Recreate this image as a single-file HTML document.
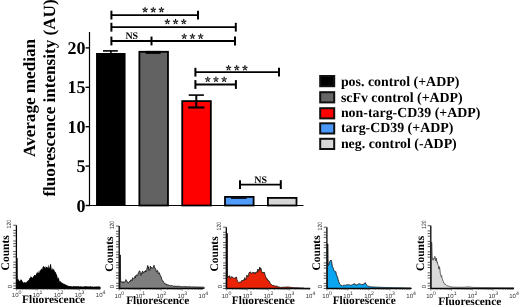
<!DOCTYPE html>
<html><head><meta charset="utf-8"><style>
html,body{margin:0;padding:0;background:#fff;}
body{width:520px;height:307px;overflow:hidden;}
svg{display:block;font-family:"Liberation Serif", serif;text-rendering:geometricPrecision;filter:blur(0.35px);}
</style></head><body>
<svg width="520" height="307" viewBox="0 0 520 307">
<rect width="520" height="307" fill="#fff"/>
<line x1="89.5" y1="32" x2="89.5" y2="206.2" stroke="#000" stroke-width="1.2"/>
<line x1="88.9" y1="205.5" x2="303.5" y2="205.5" stroke="#000" stroke-width="1.2"/>
<line x1="85.6" y1="205.50" x2="89.5" y2="205.50" stroke="#000" stroke-width="1.4"/>
<text x="85.5" y="211.60" font-size="18" font-weight="bold" text-anchor="end">0</text>
<line x1="85.6" y1="166.10" x2="89.5" y2="166.10" stroke="#000" stroke-width="1.4"/>
<text x="85.5" y="172.20" font-size="18" font-weight="bold" text-anchor="end">5</text>
<line x1="85.6" y1="126.70" x2="89.5" y2="126.70" stroke="#000" stroke-width="1.4"/>
<text x="85.5" y="132.80" font-size="18" font-weight="bold" text-anchor="end">10</text>
<line x1="85.6" y1="87.30" x2="89.5" y2="87.30" stroke="#000" stroke-width="1.4"/>
<text x="85.5" y="93.40" font-size="18" font-weight="bold" text-anchor="end">15</text>
<line x1="85.6" y1="47.90" x2="89.5" y2="47.90" stroke="#000" stroke-width="1.4"/>
<text x="85.5" y="54.00" font-size="18" font-weight="bold" text-anchor="end">20</text>
<text transform="translate(35.4,98) rotate(-90)" font-size="17.1" font-weight="bold" text-anchor="middle">Average median</text>
<text transform="translate(55,98) rotate(-90)" font-size="17.1" font-weight="bold" text-anchor="middle">fluorescence intensity (AU)</text>
<rect x="96.05" y="53.0" width="29.5" height="152.5" fill="#000"/>
<rect x="139.37" y="51.80" width="28.60" height="153.70" fill="#626262" stroke="#000" stroke-width="1.8"/>
<rect x="182.24" y="101.10" width="28.60" height="104.40" fill="#f00" stroke="#000" stroke-width="1.8"/>
<rect x="225.00" y="196.90" width="28.60" height="8.60" fill="#509cfa" stroke="#000" stroke-width="1.8"/>
<rect x="267.90" y="197.90" width="28.60" height="7.60" fill="#d6d6d6" stroke="#000" stroke-width="1.8"/>
<line x1="103.0" y1="50.9" x2="117.8" y2="50.9" stroke="#000" stroke-width="1.6"/>
<line x1="110.9" y1="50.9" x2="110.9" y2="53.5" stroke="#000" stroke-width="1.6"/>
<line x1="145.6" y1="52.4" x2="160.6" y2="52.4" stroke="#000" stroke-width="3.0"/>
<line x1="188.7" y1="95.1" x2="203.9" y2="95.1" stroke="#000" stroke-width="1.6"/>
<line x1="188.2" y1="107.5" x2="204.4" y2="107.5" stroke="#000" stroke-width="2.2"/>
<line x1="196.3" y1="95.1" x2="196.3" y2="107.5" stroke="#000" stroke-width="2"/>
<line x1="231.0" y1="198.2" x2="246.5" y2="198.2" stroke="#000" stroke-width="1.3"/>
<line x1="111.4" y1="15.1" x2="198.0" y2="15.1" stroke="#000" stroke-width="1.8"/>
<line x1="111.4" y1="10.7" x2="111.4" y2="19.5" stroke="#000" stroke-width="2"/>
<line x1="198.0" y1="10.7" x2="198.0" y2="19.5" stroke="#000" stroke-width="2"/>
<line x1="111.4" y1="27.2" x2="235.8" y2="27.2" stroke="#000" stroke-width="1.8"/>
<line x1="111.4" y1="22.799999999999997" x2="111.4" y2="31.6" stroke="#000" stroke-width="2"/>
<line x1="235.8" y1="22.799999999999997" x2="235.8" y2="31.6" stroke="#000" stroke-width="2"/>
<line x1="111.4" y1="41.0" x2="235.0" y2="41.0" stroke="#000" stroke-width="1.8"/>
<line x1="111.4" y1="36.6" x2="111.4" y2="45.4" stroke="#000" stroke-width="2"/>
<line x1="235.0" y1="36.6" x2="235.0" y2="45.4" stroke="#000" stroke-width="2"/>
<line x1="151.5" y1="36.6" x2="151.5" y2="45.4" stroke="#000" stroke-width="2"/>
<line x1="195.4" y1="72.2" x2="279.0" y2="72.2" stroke="#000" stroke-width="1.8"/>
<line x1="195.4" y1="67.8" x2="195.4" y2="76.60000000000001" stroke="#000" stroke-width="2"/>
<line x1="279.0" y1="67.8" x2="279.0" y2="76.60000000000001" stroke="#000" stroke-width="2"/>
<line x1="195.4" y1="84.5" x2="235.9" y2="84.5" stroke="#000" stroke-width="1.8"/>
<line x1="195.4" y1="80.1" x2="195.4" y2="88.9" stroke="#000" stroke-width="2"/>
<line x1="235.9" y1="80.1" x2="235.9" y2="88.9" stroke="#000" stroke-width="2"/>
<line x1="240.0" y1="184.6" x2="280.8" y2="184.6" stroke="#000" stroke-width="1.8"/>
<line x1="240.0" y1="180.2" x2="240.0" y2="189.0" stroke="#000" stroke-width="2"/>
<line x1="280.8" y1="180.2" x2="280.8" y2="189.0" stroke="#000" stroke-width="2"/>
<g fill="#111"><ellipse cx="145.05" cy="8.23" rx="1.35" ry="0.67" transform="rotate(-90 145.05 8.23)"/><ellipse cx="146.64" cy="9.38" rx="1.35" ry="0.67" transform="rotate(-18 146.64 9.38)"/><ellipse cx="146.03" cy="11.25" rx="1.35" ry="0.67" transform="rotate(54 146.03 11.25)"/><ellipse cx="144.07" cy="11.25" rx="1.35" ry="0.67" transform="rotate(126 144.07 11.25)"/><ellipse cx="143.46" cy="9.38" rx="1.35" ry="0.67" transform="rotate(198 143.46 9.38)"/><circle cx="145.05" cy="9.90" r="0.49"/></g>
<g fill="#111"><ellipse cx="153.25" cy="8.23" rx="1.35" ry="0.67" transform="rotate(-90 153.25 8.23)"/><ellipse cx="154.84" cy="9.38" rx="1.35" ry="0.67" transform="rotate(-18 154.84 9.38)"/><ellipse cx="154.23" cy="11.25" rx="1.35" ry="0.67" transform="rotate(54 154.23 11.25)"/><ellipse cx="152.27" cy="11.25" rx="1.35" ry="0.67" transform="rotate(126 152.27 11.25)"/><ellipse cx="151.66" cy="9.38" rx="1.35" ry="0.67" transform="rotate(198 151.66 9.38)"/><circle cx="153.25" cy="9.90" r="0.49"/></g>
<g fill="#111"><ellipse cx="161.45" cy="8.23" rx="1.35" ry="0.67" transform="rotate(-90 161.45 8.23)"/><ellipse cx="163.04" cy="9.38" rx="1.35" ry="0.67" transform="rotate(-18 163.04 9.38)"/><ellipse cx="162.43" cy="11.25" rx="1.35" ry="0.67" transform="rotate(54 162.43 11.25)"/><ellipse cx="160.47" cy="11.25" rx="1.35" ry="0.67" transform="rotate(126 160.47 11.25)"/><ellipse cx="159.86" cy="9.38" rx="1.35" ry="0.67" transform="rotate(198 159.86 9.38)"/><circle cx="161.45" cy="9.90" r="0.49"/></g>
<g fill="#111"><ellipse cx="167.35" cy="20.13" rx="1.35" ry="0.67" transform="rotate(-90 167.35 20.13)"/><ellipse cx="168.94" cy="21.28" rx="1.35" ry="0.67" transform="rotate(-18 168.94 21.28)"/><ellipse cx="168.33" cy="23.15" rx="1.35" ry="0.67" transform="rotate(54 168.33 23.15)"/><ellipse cx="166.37" cy="23.15" rx="1.35" ry="0.67" transform="rotate(126 166.37 23.15)"/><ellipse cx="165.76" cy="21.28" rx="1.35" ry="0.67" transform="rotate(198 165.76 21.28)"/><circle cx="167.35" cy="21.80" r="0.49"/></g>
<g fill="#111"><ellipse cx="175.55" cy="20.13" rx="1.35" ry="0.67" transform="rotate(-90 175.55 20.13)"/><ellipse cx="177.14" cy="21.28" rx="1.35" ry="0.67" transform="rotate(-18 177.14 21.28)"/><ellipse cx="176.53" cy="23.15" rx="1.35" ry="0.67" transform="rotate(54 176.53 23.15)"/><ellipse cx="174.57" cy="23.15" rx="1.35" ry="0.67" transform="rotate(126 174.57 23.15)"/><ellipse cx="173.96" cy="21.28" rx="1.35" ry="0.67" transform="rotate(198 173.96 21.28)"/><circle cx="175.55" cy="21.80" r="0.49"/></g>
<g fill="#111"><ellipse cx="183.75" cy="20.13" rx="1.35" ry="0.67" transform="rotate(-90 183.75 20.13)"/><ellipse cx="185.34" cy="21.28" rx="1.35" ry="0.67" transform="rotate(-18 185.34 21.28)"/><ellipse cx="184.73" cy="23.15" rx="1.35" ry="0.67" transform="rotate(54 184.73 23.15)"/><ellipse cx="182.77" cy="23.15" rx="1.35" ry="0.67" transform="rotate(126 182.77 23.15)"/><ellipse cx="182.16" cy="21.28" rx="1.35" ry="0.67" transform="rotate(198 182.16 21.28)"/><circle cx="183.75" cy="21.80" r="0.49"/></g>
<g fill="#111"><ellipse cx="184.25" cy="34.83" rx="1.35" ry="0.67" transform="rotate(-90 184.25 34.83)"/><ellipse cx="185.84" cy="35.98" rx="1.35" ry="0.67" transform="rotate(-18 185.84 35.98)"/><ellipse cx="185.23" cy="37.85" rx="1.35" ry="0.67" transform="rotate(54 185.23 37.85)"/><ellipse cx="183.27" cy="37.85" rx="1.35" ry="0.67" transform="rotate(126 183.27 37.85)"/><ellipse cx="182.66" cy="35.98" rx="1.35" ry="0.67" transform="rotate(198 182.66 35.98)"/><circle cx="184.25" cy="36.50" r="0.49"/></g>
<g fill="#111"><ellipse cx="192.45" cy="34.83" rx="1.35" ry="0.67" transform="rotate(-90 192.45 34.83)"/><ellipse cx="194.04" cy="35.98" rx="1.35" ry="0.67" transform="rotate(-18 194.04 35.98)"/><ellipse cx="193.43" cy="37.85" rx="1.35" ry="0.67" transform="rotate(54 193.43 37.85)"/><ellipse cx="191.47" cy="37.85" rx="1.35" ry="0.67" transform="rotate(126 191.47 37.85)"/><ellipse cx="190.86" cy="35.98" rx="1.35" ry="0.67" transform="rotate(198 190.86 35.98)"/><circle cx="192.45" cy="36.50" r="0.49"/></g>
<g fill="#111"><ellipse cx="200.65" cy="34.83" rx="1.35" ry="0.67" transform="rotate(-90 200.65 34.83)"/><ellipse cx="202.24" cy="35.98" rx="1.35" ry="0.67" transform="rotate(-18 202.24 35.98)"/><ellipse cx="201.63" cy="37.85" rx="1.35" ry="0.67" transform="rotate(54 201.63 37.85)"/><ellipse cx="199.67" cy="37.85" rx="1.35" ry="0.67" transform="rotate(126 199.67 37.85)"/><ellipse cx="199.06" cy="35.98" rx="1.35" ry="0.67" transform="rotate(198 199.06 35.98)"/><circle cx="200.65" cy="36.50" r="0.49"/></g>
<g fill="#111"><ellipse cx="228.55" cy="66.28" rx="1.35" ry="0.67" transform="rotate(-90 228.55 66.28)"/><ellipse cx="230.14" cy="67.43" rx="1.35" ry="0.67" transform="rotate(-18 230.14 67.43)"/><ellipse cx="229.53" cy="69.30" rx="1.35" ry="0.67" transform="rotate(54 229.53 69.30)"/><ellipse cx="227.57" cy="69.30" rx="1.35" ry="0.67" transform="rotate(126 227.57 69.30)"/><ellipse cx="226.96" cy="67.43" rx="1.35" ry="0.67" transform="rotate(198 226.96 67.43)"/><circle cx="228.55" cy="67.95" r="0.49"/></g>
<g fill="#111"><ellipse cx="236.75" cy="66.28" rx="1.35" ry="0.67" transform="rotate(-90 236.75 66.28)"/><ellipse cx="238.34" cy="67.43" rx="1.35" ry="0.67" transform="rotate(-18 238.34 67.43)"/><ellipse cx="237.73" cy="69.30" rx="1.35" ry="0.67" transform="rotate(54 237.73 69.30)"/><ellipse cx="235.77" cy="69.30" rx="1.35" ry="0.67" transform="rotate(126 235.77 69.30)"/><ellipse cx="235.16" cy="67.43" rx="1.35" ry="0.67" transform="rotate(198 235.16 67.43)"/><circle cx="236.75" cy="67.95" r="0.49"/></g>
<g fill="#111"><ellipse cx="244.95" cy="66.28" rx="1.35" ry="0.67" transform="rotate(-90 244.95 66.28)"/><ellipse cx="246.54" cy="67.43" rx="1.35" ry="0.67" transform="rotate(-18 246.54 67.43)"/><ellipse cx="245.93" cy="69.30" rx="1.35" ry="0.67" transform="rotate(54 245.93 69.30)"/><ellipse cx="243.97" cy="69.30" rx="1.35" ry="0.67" transform="rotate(126 243.97 69.30)"/><ellipse cx="243.36" cy="67.43" rx="1.35" ry="0.67" transform="rotate(198 243.36 67.43)"/><circle cx="244.95" cy="67.95" r="0.49"/></g>
<g fill="#111"><ellipse cx="207.75" cy="77.83" rx="1.35" ry="0.67" transform="rotate(-90 207.75 77.83)"/><ellipse cx="209.34" cy="78.98" rx="1.35" ry="0.67" transform="rotate(-18 209.34 78.98)"/><ellipse cx="208.73" cy="80.85" rx="1.35" ry="0.67" transform="rotate(54 208.73 80.85)"/><ellipse cx="206.77" cy="80.85" rx="1.35" ry="0.67" transform="rotate(126 206.77 80.85)"/><ellipse cx="206.16" cy="78.98" rx="1.35" ry="0.67" transform="rotate(198 206.16 78.98)"/><circle cx="207.75" cy="79.50" r="0.49"/></g>
<g fill="#111"><ellipse cx="215.95" cy="77.83" rx="1.35" ry="0.67" transform="rotate(-90 215.95 77.83)"/><ellipse cx="217.54" cy="78.98" rx="1.35" ry="0.67" transform="rotate(-18 217.54 78.98)"/><ellipse cx="216.93" cy="80.85" rx="1.35" ry="0.67" transform="rotate(54 216.93 80.85)"/><ellipse cx="214.97" cy="80.85" rx="1.35" ry="0.67" transform="rotate(126 214.97 80.85)"/><ellipse cx="214.36" cy="78.98" rx="1.35" ry="0.67" transform="rotate(198 214.36 78.98)"/><circle cx="215.95" cy="79.50" r="0.49"/></g>
<g fill="#111"><ellipse cx="224.15" cy="77.83" rx="1.35" ry="0.67" transform="rotate(-90 224.15 77.83)"/><ellipse cx="225.74" cy="78.98" rx="1.35" ry="0.67" transform="rotate(-18 225.74 78.98)"/><ellipse cx="225.13" cy="80.85" rx="1.35" ry="0.67" transform="rotate(54 225.13 80.85)"/><ellipse cx="223.17" cy="80.85" rx="1.35" ry="0.67" transform="rotate(126 223.17 80.85)"/><ellipse cx="222.56" cy="78.98" rx="1.35" ry="0.67" transform="rotate(198 222.56 78.98)"/><circle cx="224.15" cy="79.50" r="0.49"/></g>
<text x="125.40" y="38.8" font-size="10" font-weight="bold">NS</text>
<text x="254.20" y="182.7" font-size="10" font-weight="bold">NS</text>
<rect x="320.2" y="76.00" width="14" height="10.2" fill="#000" stroke="#111" stroke-width="2"/>
<text x="340.9" y="85.5" font-size="13.9" font-weight="bold">pos. control (+ADP)</text>
<rect x="320.2" y="92.20" width="14" height="10.2" fill="#666" stroke="#111" stroke-width="2"/>
<text x="340.9" y="101.7" font-size="13.9" font-weight="bold">scFv control (+ADP)</text>
<rect x="320.2" y="108.20" width="14" height="10.2" fill="#f00" stroke="#111" stroke-width="2"/>
<text x="340.9" y="117.4" font-size="13.9" font-weight="bold">non-targ-CD39 (+ADP)</text>
<rect x="320.2" y="123.30" width="14" height="10.2" fill="#4a98fc" stroke="#111" stroke-width="2"/>
<text x="340.9" y="132.3" font-size="13.9" font-weight="bold">targ-CD39 (+ADP)</text>
<rect x="320.2" y="138.80" width="14" height="10.2" fill="#d8d8d8" stroke="#111" stroke-width="2"/>
<text x="340.9" y="148.0" font-size="13.9" font-weight="bold">neg. control (-ADP)</text>
<path d="M17.00,288.5 L17.00,258.00 L17.60,258.00 L17.80,279.00 L18.25,278.98 L18.70,280.06 L19.20,280.46 L19.70,281.19 L20.25,280.39 L20.80,279.14 L21.30,279.87 L21.80,279.73 L22.35,281.16 L22.90,282.00 L23.40,282.21 L23.90,283.21 L24.40,282.09 L24.80,282.07 L25.20,281.90 L25.60,282.86 L26.00,282.73 L26.50,282.06 L27.00,281.60 L27.50,280.92 L27.90,280.70 L28.30,279.91 L28.70,280.27 L29.10,279.18 L29.60,278.03 L30.10,277.88 L30.63,275.98 L31.17,277.16 L31.70,276.78 L32.23,277.81 L32.77,277.39 L33.30,276.51 L33.80,275.97 L34.30,274.94 L34.80,274.96 L35.20,275.23 L35.60,275.33 L36.00,274.52 L36.40,272.37 L36.90,273.92 L37.40,272.35 L37.80,271.88 L38.20,273.62 L38.60,271.72 L39.00,270.10 L39.40,273.19 L39.80,270.85 L40.20,270.12 L40.60,270.43 L41.10,268.56 L41.60,268.84 L42.10,270.11 L42.50,267.18 L42.90,267.11 L43.30,266.53 L43.70,265.68 L44.20,266.80 L44.70,266.92 L45.20,268.47 L45.73,265.95 L46.27,267.25 L46.80,266.85 L47.20,267.73 L47.60,267.24 L48.00,266.58 L48.40,264.20 L48.90,268.41 L49.40,267.80 L49.90,265.81 L50.45,263.65 L51.00,264.07 L51.50,268.44 L52.00,270.41 L52.40,267.50 L52.80,269.31 L53.20,270.26 L53.60,268.39 L54.10,269.15 L54.60,271.06 L55.10,271.84 L55.50,272.43 L55.90,272.05 L56.30,273.82 L56.70,274.71 L57.23,275.73 L57.77,278.63 L58.30,277.25 L58.70,278.11 L59.10,279.01 L59.60,281.40 L60.10,281.13 L60.60,280.92 L61.00,282.77 L61.40,282.29 L61.80,282.12 L62.20,283.58 L62.62,282.52 L63.04,283.17 L63.46,283.66 L63.88,283.68 L64.30,283.77 L64.72,284.18 L65.14,284.07 L65.56,284.86 L65.98,285.00 L66.40,284.82 L66.82,285.25 L67.24,285.64 L67.66,285.36 L68.08,285.42 L68.50,285.99 L68.94,286.24 L69.39,286.04 L69.83,286.10 L70.27,286.19 L70.71,285.93 L71.16,286.43 L71.60,286.08 L72.01,286.52 L72.43,286.44 L72.84,286.19 L73.25,286.10 L73.67,286.15 L74.08,286.24 L74.49,286.27 L74.91,286.27 L75.32,286.20 L75.73,286.33 L76.15,286.25 L76.56,286.20 L76.97,286.30 L77.39,286.17 L77.80,286.20 L78.20,285.96 L78.60,286.27 L79.00,286.42 L79.40,286.43 L79.80,286.38 L80.20,286.24 L80.60,286.46 L81.00,286.36 L81.40,286.14 L81.80,286.87 L82.20,286.65 L82.60,286.45 L83.00,286.44 L83.42,286.44 L83.83,286.54 L84.25,286.34 L84.67,286.39 L85.08,286.50 L85.50,285.99 L85.92,286.32 L86.33,286.46 L86.75,286.37 L87.17,286.37 L87.58,286.33 L88.00,286.78 L88.42,286.41 L88.85,286.17 L89.27,286.57 L89.69,286.40 L90.12,286.26 L90.54,286.30 L90.96,286.22 L91.38,286.76 L91.81,286.56 L92.23,286.58 L92.65,286.46 L93.08,286.41 L93.50,287.01 L93.90,286.43 L94.30,286.82 L94.70,286.50 L95.10,286.83 L95.50,286.57 L95.90,286.42 L96.30,286.62 L96.70,286.57 L97.10,286.48 L97.50,286.58 L97.90,286.61 L98.30,286.37 L98.70,286.44 L99.17,286.69 L99.65,286.30 L100.12,286.91 L100.60,286.68 L100.60,288.5 Z" fill="#000" stroke="none" stroke-width="0.9" stroke-linejoin="round"/>
<line x1="16.4" y1="225.2" x2="16.4" y2="289.0" stroke="#000" stroke-width="1.3"/>
<line x1="15.799999999999999" y1="288.5" x2="100.40" y2="288.5" stroke="#000" stroke-width="1.3"/>
<line x1="13.20" y1="288.50" x2="16.4" y2="288.50" stroke="#333" stroke-width="0.8"/>
<line x1="13.20" y1="285.86" x2="16.4" y2="285.86" stroke="#333" stroke-width="0.8"/>
<line x1="13.20" y1="283.23" x2="16.4" y2="283.23" stroke="#333" stroke-width="0.8"/>
<line x1="13.20" y1="277.95" x2="16.4" y2="277.95" stroke="#333" stroke-width="0.8"/>
<line x1="13.20" y1="275.31" x2="16.4" y2="275.31" stroke="#333" stroke-width="0.8"/>
<line x1="13.20" y1="272.68" x2="16.4" y2="272.68" stroke="#333" stroke-width="0.8"/>
<line x1="13.20" y1="267.40" x2="16.4" y2="267.40" stroke="#333" stroke-width="0.8"/>
<line x1="13.20" y1="264.76" x2="16.4" y2="264.76" stroke="#333" stroke-width="0.8"/>
<line x1="13.20" y1="262.12" x2="16.4" y2="262.12" stroke="#333" stroke-width="0.8"/>
<line x1="13.20" y1="256.85" x2="16.4" y2="256.85" stroke="#333" stroke-width="0.8"/>
<line x1="13.20" y1="254.21" x2="16.4" y2="254.21" stroke="#333" stroke-width="0.8"/>
<line x1="13.20" y1="251.57" x2="16.4" y2="251.57" stroke="#333" stroke-width="0.8"/>
<line x1="13.20" y1="246.30" x2="16.4" y2="246.30" stroke="#333" stroke-width="0.8"/>
<line x1="13.20" y1="243.66" x2="16.4" y2="243.66" stroke="#333" stroke-width="0.8"/>
<line x1="13.20" y1="241.03" x2="16.4" y2="241.03" stroke="#333" stroke-width="0.8"/>
<line x1="13.20" y1="235.75" x2="16.4" y2="235.75" stroke="#333" stroke-width="0.8"/>
<line x1="13.20" y1="233.11" x2="16.4" y2="233.11" stroke="#333" stroke-width="0.8"/>
<line x1="13.20" y1="230.47" x2="16.4" y2="230.47" stroke="#333" stroke-width="0.8"/>
<line x1="13.20" y1="225.20" x2="16.4" y2="225.20" stroke="#333" stroke-width="0.8"/>
<line x1="16.40" y1="288.5" x2="16.40" y2="290.7" stroke="#444" stroke-width="0.55"/>
<line x1="22.72" y1="288.5" x2="22.72" y2="289.9" stroke="#444" stroke-width="0.55"/>
<line x1="26.42" y1="288.5" x2="26.42" y2="289.9" stroke="#444" stroke-width="0.55"/>
<line x1="29.04" y1="288.5" x2="29.04" y2="289.9" stroke="#444" stroke-width="0.55"/>
<line x1="31.08" y1="288.5" x2="31.08" y2="289.9" stroke="#444" stroke-width="0.55"/>
<line x1="32.74" y1="288.5" x2="32.74" y2="289.9" stroke="#444" stroke-width="0.55"/>
<line x1="34.15" y1="288.5" x2="34.15" y2="289.9" stroke="#444" stroke-width="0.55"/>
<line x1="35.36" y1="288.5" x2="35.36" y2="289.9" stroke="#444" stroke-width="0.55"/>
<line x1="36.44" y1="288.5" x2="36.44" y2="289.9" stroke="#444" stroke-width="0.55"/>
<line x1="37.40" y1="288.5" x2="37.40" y2="290.7" stroke="#444" stroke-width="0.55"/>
<line x1="43.72" y1="288.5" x2="43.72" y2="289.9" stroke="#444" stroke-width="0.55"/>
<line x1="47.42" y1="288.5" x2="47.42" y2="289.9" stroke="#444" stroke-width="0.55"/>
<line x1="50.04" y1="288.5" x2="50.04" y2="289.9" stroke="#444" stroke-width="0.55"/>
<line x1="52.08" y1="288.5" x2="52.08" y2="289.9" stroke="#444" stroke-width="0.55"/>
<line x1="53.74" y1="288.5" x2="53.74" y2="289.9" stroke="#444" stroke-width="0.55"/>
<line x1="55.15" y1="288.5" x2="55.15" y2="289.9" stroke="#444" stroke-width="0.55"/>
<line x1="56.36" y1="288.5" x2="56.36" y2="289.9" stroke="#444" stroke-width="0.55"/>
<line x1="57.44" y1="288.5" x2="57.44" y2="289.9" stroke="#444" stroke-width="0.55"/>
<line x1="58.40" y1="288.5" x2="58.40" y2="290.7" stroke="#444" stroke-width="0.55"/>
<line x1="64.72" y1="288.5" x2="64.72" y2="289.9" stroke="#444" stroke-width="0.55"/>
<line x1="68.42" y1="288.5" x2="68.42" y2="289.9" stroke="#444" stroke-width="0.55"/>
<line x1="71.04" y1="288.5" x2="71.04" y2="289.9" stroke="#444" stroke-width="0.55"/>
<line x1="73.08" y1="288.5" x2="73.08" y2="289.9" stroke="#444" stroke-width="0.55"/>
<line x1="74.74" y1="288.5" x2="74.74" y2="289.9" stroke="#444" stroke-width="0.55"/>
<line x1="76.15" y1="288.5" x2="76.15" y2="289.9" stroke="#444" stroke-width="0.55"/>
<line x1="77.36" y1="288.5" x2="77.36" y2="289.9" stroke="#444" stroke-width="0.55"/>
<line x1="78.44" y1="288.5" x2="78.44" y2="289.9" stroke="#444" stroke-width="0.55"/>
<line x1="79.40" y1="288.5" x2="79.40" y2="290.7" stroke="#444" stroke-width="0.55"/>
<line x1="85.72" y1="288.5" x2="85.72" y2="289.9" stroke="#444" stroke-width="0.55"/>
<line x1="89.42" y1="288.5" x2="89.42" y2="289.9" stroke="#444" stroke-width="0.55"/>
<line x1="92.04" y1="288.5" x2="92.04" y2="289.9" stroke="#444" stroke-width="0.55"/>
<line x1="94.08" y1="288.5" x2="94.08" y2="289.9" stroke="#444" stroke-width="0.55"/>
<line x1="95.74" y1="288.5" x2="95.74" y2="289.9" stroke="#444" stroke-width="0.55"/>
<line x1="97.15" y1="288.5" x2="97.15" y2="289.9" stroke="#444" stroke-width="0.55"/>
<line x1="98.36" y1="288.5" x2="98.36" y2="289.9" stroke="#444" stroke-width="0.55"/>
<line x1="99.44" y1="288.5" x2="99.44" y2="289.9" stroke="#444" stroke-width="0.55"/>
<text x="11.80" y="297.2" font-family="Liberation Sans, sans-serif" font-size="6.0" fill="#333">10<tspan dy="-3.0" font-size="5.2">0</tspan></text>
<text x="32.80" y="297.2" font-family="Liberation Sans, sans-serif" font-size="6.0" fill="#333">10<tspan dy="-3.0" font-size="5.2">1</tspan></text>
<text x="53.80" y="297.2" font-family="Liberation Sans, sans-serif" font-size="6.0" fill="#333">10<tspan dy="-3.0" font-size="5.2">2</tspan></text>
<text x="74.80" y="297.2" font-family="Liberation Sans, sans-serif" font-size="6.0" fill="#333">10<tspan dy="-3.0" font-size="5.2">3</tspan></text>
<text x="95.80" y="297.2" font-family="Liberation Sans, sans-serif" font-size="6.0" fill="#333">10<tspan dy="-3.0" font-size="5.2">4</tspan></text>
<text transform="translate(11.60,286.60) rotate(-90)" font-family="Liberation Sans, sans-serif" font-size="6" fill="#333" text-anchor="middle">0</text>
<text transform="translate(11.40,224.20) rotate(-90)" font-family="Liberation Sans, sans-serif" font-size="6.2" fill="#333" text-anchor="middle" textLength="8.4" lengthAdjust="spacingAndGlyphs">120</text>
<text transform="translate(8.9,252.8) rotate(-90)" font-size="11.5" font-weight="bold" text-anchor="middle">Counts</text>
<text x="53.6" y="303.3" font-size="11.4" font-weight="bold" text-anchor="middle">Fluorescence</text>
<path d="M119.90,288.5 L119.90,255.00 L120.40,255.00 L120.60,282.14 L121.03,281.96 L121.47,281.70 L121.90,281.99 L122.33,281.81 L122.77,282.94 L123.20,282.96 L123.73,281.61 L124.27,282.19 L124.80,281.98 L125.35,281.79 L125.90,279.58 L126.40,280.61 L126.90,280.90 L127.40,282.72 L127.90,282.80 L128.43,283.14 L128.97,282.03 L129.50,281.40 L130.03,282.09 L130.57,280.06 L131.10,279.76 L131.60,279.99 L132.10,280.78 L132.60,277.71 L133.13,278.71 L133.67,278.95 L134.20,277.97 L134.60,277.58 L135.00,276.26 L135.40,278.07 L135.80,275.79 L136.30,275.09 L136.80,274.74 L137.30,275.87 L137.85,275.37 L138.40,272.58 L138.90,272.18 L139.40,270.86 L139.90,271.07 L140.40,274.36 L140.93,275.57 L141.47,272.77 L142.00,273.49 L142.53,271.00 L143.07,271.90 L143.60,273.23 L144.10,272.44 L144.60,271.39 L145.10,272.02 L145.63,270.49 L146.17,271.77 L146.70,270.38 L147.20,267.76 L147.70,265.48 L148.10,268.45 L148.50,266.86 L148.90,270.35 L149.30,269.66 L149.83,270.22 L150.37,266.12 L150.90,268.39 L151.40,267.25 L151.90,267.80 L152.40,267.93 L152.93,268.43 L153.47,267.29 L154.00,265.26 L154.50,268.05 L155.00,268.19 L155.50,268.37 L156.03,270.22 L156.57,271.89 L157.10,271.60 L157.63,270.38 L158.17,273.80 L158.70,273.22 L159.20,272.62 L159.70,273.90 L160.20,275.69 L160.67,275.71 L161.13,277.02 L161.60,278.90 L162.10,280.25 L162.60,280.66 L163.10,280.88 L163.52,282.12 L163.94,282.69 L164.36,283.02 L164.78,283.74 L165.20,283.55 L165.62,284.17 L166.04,283.81 L166.46,284.98 L166.88,284.27 L167.30,284.80 L167.74,285.33 L168.19,284.68 L168.63,285.11 L169.07,285.77 L169.51,285.54 L169.96,285.39 L170.40,285.71 L170.84,285.49 L171.29,285.58 L171.73,285.67 L172.17,285.82 L172.61,285.69 L173.06,285.90 L173.50,286.01 L173.91,286.52 L174.31,285.99 L174.72,285.94 L175.12,286.27 L175.53,286.32 L175.93,285.92 L176.34,286.60 L176.74,286.24 L177.15,285.93 L177.56,286.54 L177.96,286.29 L178.37,286.12 L178.77,286.48 L179.18,286.40 L179.58,286.37 L179.99,286.69 L180.39,286.59 L180.80,286.56 L181.20,286.49 L181.61,286.63 L182.01,286.66 L182.42,286.80 L182.82,286.71 L183.22,286.54 L183.63,286.67 L184.03,286.82 L184.43,286.82 L184.84,286.33 L185.24,286.57 L185.65,286.65 L186.05,287.11 L186.45,286.68 L186.86,286.71 L187.26,286.55 L187.67,286.74 L188.07,286.82 L188.47,286.75 L188.88,287.09 L189.28,286.71 L189.68,286.81 L190.09,286.96 L190.49,286.70 L190.90,286.66 L191.30,287.08 L191.70,286.99 L192.11,286.88 L192.51,286.91 L192.91,286.99 L193.32,287.07 L193.72,286.70 L194.12,286.84 L194.53,287.12 L194.93,287.15 L195.33,286.79 L195.74,287.01 L196.14,287.02 L196.54,287.03 L196.95,287.04 L197.35,287.05 L197.75,287.05 L198.15,287.06 L198.56,287.07 L198.96,287.08 L199.36,287.09 L199.77,287.10 L200.17,287.11 L200.57,287.12 L200.98,287.13 L201.38,287.14 L201.78,287.15 L202.19,287.16 L202.59,287.17 L202.99,287.18 L203.40,287.19 L203.80,287.20 L204.20,287.40 L204.20,288.5 Z" fill="#7e7e7e" stroke="#1a1a1a" stroke-width="0.9" stroke-linejoin="round"/>
<line x1="119.2" y1="226.1" x2="119.2" y2="289.0" stroke="#000" stroke-width="1.3"/>
<line x1="118.60000000000001" y1="288.5" x2="203.20" y2="288.5" stroke="#000" stroke-width="1.3"/>
<line x1="116.00" y1="288.50" x2="119.2" y2="288.50" stroke="#333" stroke-width="0.8"/>
<line x1="116.00" y1="285.90" x2="119.2" y2="285.90" stroke="#333" stroke-width="0.8"/>
<line x1="116.00" y1="283.30" x2="119.2" y2="283.30" stroke="#333" stroke-width="0.8"/>
<line x1="116.00" y1="278.10" x2="119.2" y2="278.10" stroke="#333" stroke-width="0.8"/>
<line x1="116.00" y1="275.50" x2="119.2" y2="275.50" stroke="#333" stroke-width="0.8"/>
<line x1="116.00" y1="272.90" x2="119.2" y2="272.90" stroke="#333" stroke-width="0.8"/>
<line x1="116.00" y1="267.70" x2="119.2" y2="267.70" stroke="#333" stroke-width="0.8"/>
<line x1="116.00" y1="265.10" x2="119.2" y2="265.10" stroke="#333" stroke-width="0.8"/>
<line x1="116.00" y1="262.50" x2="119.2" y2="262.50" stroke="#333" stroke-width="0.8"/>
<line x1="116.00" y1="257.30" x2="119.2" y2="257.30" stroke="#333" stroke-width="0.8"/>
<line x1="116.00" y1="254.70" x2="119.2" y2="254.70" stroke="#333" stroke-width="0.8"/>
<line x1="116.00" y1="252.10" x2="119.2" y2="252.10" stroke="#333" stroke-width="0.8"/>
<line x1="116.00" y1="246.90" x2="119.2" y2="246.90" stroke="#333" stroke-width="0.8"/>
<line x1="116.00" y1="244.30" x2="119.2" y2="244.30" stroke="#333" stroke-width="0.8"/>
<line x1="116.00" y1="241.70" x2="119.2" y2="241.70" stroke="#333" stroke-width="0.8"/>
<line x1="116.00" y1="236.50" x2="119.2" y2="236.50" stroke="#333" stroke-width="0.8"/>
<line x1="116.00" y1="233.90" x2="119.2" y2="233.90" stroke="#333" stroke-width="0.8"/>
<line x1="116.00" y1="231.30" x2="119.2" y2="231.30" stroke="#333" stroke-width="0.8"/>
<line x1="116.00" y1="226.10" x2="119.2" y2="226.10" stroke="#333" stroke-width="0.8"/>
<line x1="119.20" y1="288.5" x2="119.20" y2="290.7" stroke="#444" stroke-width="0.55"/>
<line x1="125.52" y1="288.5" x2="125.52" y2="289.9" stroke="#444" stroke-width="0.55"/>
<line x1="129.22" y1="288.5" x2="129.22" y2="289.9" stroke="#444" stroke-width="0.55"/>
<line x1="131.84" y1="288.5" x2="131.84" y2="289.9" stroke="#444" stroke-width="0.55"/>
<line x1="133.88" y1="288.5" x2="133.88" y2="289.9" stroke="#444" stroke-width="0.55"/>
<line x1="135.54" y1="288.5" x2="135.54" y2="289.9" stroke="#444" stroke-width="0.55"/>
<line x1="136.95" y1="288.5" x2="136.95" y2="289.9" stroke="#444" stroke-width="0.55"/>
<line x1="138.16" y1="288.5" x2="138.16" y2="289.9" stroke="#444" stroke-width="0.55"/>
<line x1="139.24" y1="288.5" x2="139.24" y2="289.9" stroke="#444" stroke-width="0.55"/>
<line x1="140.20" y1="288.5" x2="140.20" y2="290.7" stroke="#444" stroke-width="0.55"/>
<line x1="146.52" y1="288.5" x2="146.52" y2="289.9" stroke="#444" stroke-width="0.55"/>
<line x1="150.22" y1="288.5" x2="150.22" y2="289.9" stroke="#444" stroke-width="0.55"/>
<line x1="152.84" y1="288.5" x2="152.84" y2="289.9" stroke="#444" stroke-width="0.55"/>
<line x1="154.88" y1="288.5" x2="154.88" y2="289.9" stroke="#444" stroke-width="0.55"/>
<line x1="156.54" y1="288.5" x2="156.54" y2="289.9" stroke="#444" stroke-width="0.55"/>
<line x1="157.95" y1="288.5" x2="157.95" y2="289.9" stroke="#444" stroke-width="0.55"/>
<line x1="159.16" y1="288.5" x2="159.16" y2="289.9" stroke="#444" stroke-width="0.55"/>
<line x1="160.24" y1="288.5" x2="160.24" y2="289.9" stroke="#444" stroke-width="0.55"/>
<line x1="161.20" y1="288.5" x2="161.20" y2="290.7" stroke="#444" stroke-width="0.55"/>
<line x1="167.52" y1="288.5" x2="167.52" y2="289.9" stroke="#444" stroke-width="0.55"/>
<line x1="171.22" y1="288.5" x2="171.22" y2="289.9" stroke="#444" stroke-width="0.55"/>
<line x1="173.84" y1="288.5" x2="173.84" y2="289.9" stroke="#444" stroke-width="0.55"/>
<line x1="175.88" y1="288.5" x2="175.88" y2="289.9" stroke="#444" stroke-width="0.55"/>
<line x1="177.54" y1="288.5" x2="177.54" y2="289.9" stroke="#444" stroke-width="0.55"/>
<line x1="178.95" y1="288.5" x2="178.95" y2="289.9" stroke="#444" stroke-width="0.55"/>
<line x1="180.16" y1="288.5" x2="180.16" y2="289.9" stroke="#444" stroke-width="0.55"/>
<line x1="181.24" y1="288.5" x2="181.24" y2="289.9" stroke="#444" stroke-width="0.55"/>
<line x1="182.20" y1="288.5" x2="182.20" y2="290.7" stroke="#444" stroke-width="0.55"/>
<line x1="188.52" y1="288.5" x2="188.52" y2="289.9" stroke="#444" stroke-width="0.55"/>
<line x1="192.22" y1="288.5" x2="192.22" y2="289.9" stroke="#444" stroke-width="0.55"/>
<line x1="194.84" y1="288.5" x2="194.84" y2="289.9" stroke="#444" stroke-width="0.55"/>
<line x1="196.88" y1="288.5" x2="196.88" y2="289.9" stroke="#444" stroke-width="0.55"/>
<line x1="198.54" y1="288.5" x2="198.54" y2="289.9" stroke="#444" stroke-width="0.55"/>
<line x1="199.95" y1="288.5" x2="199.95" y2="289.9" stroke="#444" stroke-width="0.55"/>
<line x1="201.16" y1="288.5" x2="201.16" y2="289.9" stroke="#444" stroke-width="0.55"/>
<line x1="202.24" y1="288.5" x2="202.24" y2="289.9" stroke="#444" stroke-width="0.55"/>
<text x="114.60" y="297.8" font-family="Liberation Sans, sans-serif" font-size="6.0" fill="#333">10<tspan dy="-3.0" font-size="5.2">0</tspan></text>
<text x="135.60" y="297.8" font-family="Liberation Sans, sans-serif" font-size="6.0" fill="#333">10<tspan dy="-3.0" font-size="5.2">1</tspan></text>
<text x="156.60" y="297.8" font-family="Liberation Sans, sans-serif" font-size="6.0" fill="#333">10<tspan dy="-3.0" font-size="5.2">2</tspan></text>
<text x="177.60" y="297.8" font-family="Liberation Sans, sans-serif" font-size="6.0" fill="#333">10<tspan dy="-3.0" font-size="5.2">3</tspan></text>
<text x="198.60" y="297.8" font-family="Liberation Sans, sans-serif" font-size="6.0" fill="#333">10<tspan dy="-3.0" font-size="5.2">4</tspan></text>
<text transform="translate(114.40,286.60) rotate(-90)" font-family="Liberation Sans, sans-serif" font-size="6" fill="#333" text-anchor="middle">0</text>
<text transform="translate(114.20,225.10) rotate(-90)" font-family="Liberation Sans, sans-serif" font-size="6.2" fill="#333" text-anchor="middle" textLength="8.4" lengthAdjust="spacingAndGlyphs">120</text>
<text transform="translate(113.0,254.1) rotate(-90)" font-size="11.5" font-weight="bold" text-anchor="middle">Counts</text>
<text x="157.7" y="304.1" font-size="11.4" font-weight="bold" text-anchor="middle">Fluorescence</text>
<path d="M226.90,288.5 L226.90,233.50 L227.40,233.50 L227.50,277.49 L228.10,276.25 L228.70,276.60 L229.20,277.38 L229.70,275.66 L230.25,278.54 L230.80,277.95 L231.30,277.18 L231.80,276.51 L232.30,277.45 L232.83,277.57 L233.37,277.75 L233.90,278.51 L234.43,277.95 L234.97,277.96 L235.50,278.08 L236.00,276.87 L236.50,277.26 L237.00,279.72 L237.50,281.28 L238.05,281.70 L238.60,282.55 L239.02,282.28 L239.44,282.22 L239.86,281.99 L240.28,282.01 L240.70,282.47 L241.12,281.28 L241.54,280.63 L241.96,280.70 L242.38,280.80 L242.80,280.11 L243.20,280.64 L243.60,280.92 L244.00,279.10 L244.40,279.45 L244.80,277.70 L245.33,278.72 L245.87,279.59 L246.40,277.72 L246.93,275.01 L247.47,276.42 L248.00,276.97 L248.50,275.40 L249.00,273.11 L249.50,272.08 L250.03,272.75 L250.57,271.76 L251.10,272.89 L251.60,273.79 L252.10,273.34 L252.60,272.47 L253.13,272.63 L253.67,272.06 L254.20,273.72 L254.60,273.00 L255.00,272.36 L255.40,273.65 L255.80,272.53 L256.30,272.49 L256.80,271.66 L257.30,272.32 L257.83,269.02 L258.37,270.03 L258.90,271.23 L259.30,270.37 L259.70,267.04 L260.10,269.81 L260.50,267.89 L261.00,268.59 L261.50,270.49 L261.90,272.65 L262.30,272.10 L262.70,272.83 L263.10,272.99 L263.60,272.30 L264.10,272.07 L264.60,273.05 L265.10,275.20 L265.63,276.55 L266.17,277.72 L266.70,278.99 L267.18,278.69 L267.65,280.35 L268.12,280.43 L268.60,280.40 L269.10,281.79 L269.60,281.65 L270.13,283.44 L270.67,283.80 L271.20,284.42 L271.62,284.63 L272.04,285.02 L272.46,285.26 L272.88,285.75 L273.30,285.18 L273.74,285.55 L274.19,285.50 L274.63,286.00 L275.07,285.92 L275.51,286.33 L275.96,285.87 L276.40,285.92 L276.81,286.57 L277.22,286.37 L277.63,286.39 L278.04,286.89 L278.45,287.01 L278.86,287.02 L279.27,287.01 L279.68,287.14 L280.09,287.27 L280.50,287.40 L280.91,287.38 L281.31,287.36 L281.72,287.33 L282.12,287.31 L282.53,287.29 L282.93,287.27 L283.34,287.24 L283.74,287.22 L284.15,287.20 L284.56,287.18 L284.96,287.16 L285.37,287.13 L285.77,287.11 L286.18,287.09 L286.58,287.07 L286.99,287.04 L287.39,287.02 L287.80,287.00 L288.23,287.05 L288.67,287.10 L289.10,287.15 L289.53,287.20 L289.97,287.25 L290.40,287.30 L290.83,287.35 L291.27,287.40 L291.70,287.45 L292.13,287.50 L292.57,287.55 L293.00,287.60 L293.42,287.62 L293.84,287.64 L294.26,287.66 L294.68,287.68 L295.10,287.70 L295.52,287.72 L295.94,287.74 L296.36,287.76 L296.78,287.78 L297.20,287.80 L297.62,287.82 L298.04,287.84 L298.46,287.86 L298.88,287.88 L299.30,287.90 L299.72,287.92 L300.14,287.94 L300.56,287.96 L300.98,287.98 L301.40,288.00 L301.80,288.00 L302.20,288.00 L302.60,288.00 L303.00,288.00 L303.40,288.00 L303.80,288.00 L303.80,288.5 Z" fill="#ea2306" stroke="#1a1a1a" stroke-width="0.9" stroke-linejoin="round"/>
<line x1="226.3" y1="227.2" x2="226.3" y2="289.0" stroke="#000" stroke-width="1.3"/>
<line x1="225.70000000000002" y1="288.5" x2="310.30" y2="288.5" stroke="#000" stroke-width="1.3"/>
<line x1="223.10" y1="288.50" x2="226.3" y2="288.50" stroke="#333" stroke-width="0.8"/>
<line x1="223.10" y1="285.95" x2="226.3" y2="285.95" stroke="#333" stroke-width="0.8"/>
<line x1="223.10" y1="283.39" x2="226.3" y2="283.39" stroke="#333" stroke-width="0.8"/>
<line x1="223.10" y1="278.28" x2="226.3" y2="278.28" stroke="#333" stroke-width="0.8"/>
<line x1="223.10" y1="275.73" x2="226.3" y2="275.73" stroke="#333" stroke-width="0.8"/>
<line x1="223.10" y1="273.18" x2="226.3" y2="273.18" stroke="#333" stroke-width="0.8"/>
<line x1="223.10" y1="268.07" x2="226.3" y2="268.07" stroke="#333" stroke-width="0.8"/>
<line x1="223.10" y1="265.51" x2="226.3" y2="265.51" stroke="#333" stroke-width="0.8"/>
<line x1="223.10" y1="262.96" x2="226.3" y2="262.96" stroke="#333" stroke-width="0.8"/>
<line x1="223.10" y1="257.85" x2="226.3" y2="257.85" stroke="#333" stroke-width="0.8"/>
<line x1="223.10" y1="255.30" x2="226.3" y2="255.30" stroke="#333" stroke-width="0.8"/>
<line x1="223.10" y1="252.74" x2="226.3" y2="252.74" stroke="#333" stroke-width="0.8"/>
<line x1="223.10" y1="247.63" x2="226.3" y2="247.63" stroke="#333" stroke-width="0.8"/>
<line x1="223.10" y1="245.08" x2="226.3" y2="245.08" stroke="#333" stroke-width="0.8"/>
<line x1="223.10" y1="242.53" x2="226.3" y2="242.53" stroke="#333" stroke-width="0.8"/>
<line x1="223.10" y1="237.42" x2="226.3" y2="237.42" stroke="#333" stroke-width="0.8"/>
<line x1="223.10" y1="234.86" x2="226.3" y2="234.86" stroke="#333" stroke-width="0.8"/>
<line x1="223.10" y1="232.31" x2="226.3" y2="232.31" stroke="#333" stroke-width="0.8"/>
<line x1="223.10" y1="227.20" x2="226.3" y2="227.20" stroke="#333" stroke-width="0.8"/>
<line x1="226.30" y1="288.5" x2="226.30" y2="290.7" stroke="#444" stroke-width="0.55"/>
<line x1="232.62" y1="288.5" x2="232.62" y2="289.9" stroke="#444" stroke-width="0.55"/>
<line x1="236.32" y1="288.5" x2="236.32" y2="289.9" stroke="#444" stroke-width="0.55"/>
<line x1="238.94" y1="288.5" x2="238.94" y2="289.9" stroke="#444" stroke-width="0.55"/>
<line x1="240.98" y1="288.5" x2="240.98" y2="289.9" stroke="#444" stroke-width="0.55"/>
<line x1="242.64" y1="288.5" x2="242.64" y2="289.9" stroke="#444" stroke-width="0.55"/>
<line x1="244.05" y1="288.5" x2="244.05" y2="289.9" stroke="#444" stroke-width="0.55"/>
<line x1="245.26" y1="288.5" x2="245.26" y2="289.9" stroke="#444" stroke-width="0.55"/>
<line x1="246.34" y1="288.5" x2="246.34" y2="289.9" stroke="#444" stroke-width="0.55"/>
<line x1="247.30" y1="288.5" x2="247.30" y2="290.7" stroke="#444" stroke-width="0.55"/>
<line x1="253.62" y1="288.5" x2="253.62" y2="289.9" stroke="#444" stroke-width="0.55"/>
<line x1="257.32" y1="288.5" x2="257.32" y2="289.9" stroke="#444" stroke-width="0.55"/>
<line x1="259.94" y1="288.5" x2="259.94" y2="289.9" stroke="#444" stroke-width="0.55"/>
<line x1="261.98" y1="288.5" x2="261.98" y2="289.9" stroke="#444" stroke-width="0.55"/>
<line x1="263.64" y1="288.5" x2="263.64" y2="289.9" stroke="#444" stroke-width="0.55"/>
<line x1="265.05" y1="288.5" x2="265.05" y2="289.9" stroke="#444" stroke-width="0.55"/>
<line x1="266.26" y1="288.5" x2="266.26" y2="289.9" stroke="#444" stroke-width="0.55"/>
<line x1="267.34" y1="288.5" x2="267.34" y2="289.9" stroke="#444" stroke-width="0.55"/>
<line x1="268.30" y1="288.5" x2="268.30" y2="290.7" stroke="#444" stroke-width="0.55"/>
<line x1="274.62" y1="288.5" x2="274.62" y2="289.9" stroke="#444" stroke-width="0.55"/>
<line x1="278.32" y1="288.5" x2="278.32" y2="289.9" stroke="#444" stroke-width="0.55"/>
<line x1="280.94" y1="288.5" x2="280.94" y2="289.9" stroke="#444" stroke-width="0.55"/>
<line x1="282.98" y1="288.5" x2="282.98" y2="289.9" stroke="#444" stroke-width="0.55"/>
<line x1="284.64" y1="288.5" x2="284.64" y2="289.9" stroke="#444" stroke-width="0.55"/>
<line x1="286.05" y1="288.5" x2="286.05" y2="289.9" stroke="#444" stroke-width="0.55"/>
<line x1="287.26" y1="288.5" x2="287.26" y2="289.9" stroke="#444" stroke-width="0.55"/>
<line x1="288.34" y1="288.5" x2="288.34" y2="289.9" stroke="#444" stroke-width="0.55"/>
<line x1="289.30" y1="288.5" x2="289.30" y2="290.7" stroke="#444" stroke-width="0.55"/>
<line x1="295.62" y1="288.5" x2="295.62" y2="289.9" stroke="#444" stroke-width="0.55"/>
<line x1="299.32" y1="288.5" x2="299.32" y2="289.9" stroke="#444" stroke-width="0.55"/>
<line x1="301.94" y1="288.5" x2="301.94" y2="289.9" stroke="#444" stroke-width="0.55"/>
<line x1="303.98" y1="288.5" x2="303.98" y2="289.9" stroke="#444" stroke-width="0.55"/>
<line x1="305.64" y1="288.5" x2="305.64" y2="289.9" stroke="#444" stroke-width="0.55"/>
<line x1="307.05" y1="288.5" x2="307.05" y2="289.9" stroke="#444" stroke-width="0.55"/>
<line x1="308.26" y1="288.5" x2="308.26" y2="289.9" stroke="#444" stroke-width="0.55"/>
<line x1="309.34" y1="288.5" x2="309.34" y2="289.9" stroke="#444" stroke-width="0.55"/>
<text x="221.70" y="297.9" font-family="Liberation Sans, sans-serif" font-size="6.0" fill="#333">10<tspan dy="-3.0" font-size="5.2">0</tspan></text>
<text x="242.70" y="297.9" font-family="Liberation Sans, sans-serif" font-size="6.0" fill="#333">10<tspan dy="-3.0" font-size="5.2">1</tspan></text>
<text x="263.70" y="297.9" font-family="Liberation Sans, sans-serif" font-size="6.0" fill="#333">10<tspan dy="-3.0" font-size="5.2">2</tspan></text>
<text x="284.70" y="297.9" font-family="Liberation Sans, sans-serif" font-size="6.0" fill="#333">10<tspan dy="-3.0" font-size="5.2">3</tspan></text>
<text x="305.70" y="297.9" font-family="Liberation Sans, sans-serif" font-size="6.0" fill="#333">10<tspan dy="-3.0" font-size="5.2">4</tspan></text>
<text transform="translate(221.50,286.60) rotate(-90)" font-family="Liberation Sans, sans-serif" font-size="6" fill="#333" text-anchor="middle">0</text>
<text transform="translate(221.30,226.20) rotate(-90)" font-family="Liberation Sans, sans-serif" font-size="6.2" fill="#333" text-anchor="middle" textLength="8.4" lengthAdjust="spacingAndGlyphs">120</text>
<text transform="translate(218.0,253.9) rotate(-90)" font-size="11.5" font-weight="bold" text-anchor="middle">Counts</text>
<text x="263.4" y="304.3" font-size="11.4" font-weight="bold" text-anchor="middle">Fluorescence</text>
<path d="M327.30,288.5 L327.30,244.00 L327.90,244.00 L328.10,264.91 L328.60,265.36 L329.10,262.93 L329.60,262.07 L330.15,261.00 L330.70,260.35 L331.15,260.14 L331.60,261.47 L332.40,266.94 L332.95,267.31 L333.50,269.34 L334.10,270.77 L334.70,271.09 L335.25,271.54 L335.80,271.58 L336.40,275.10 L337.00,276.09 L337.55,277.22 L338.10,279.64 L338.65,281.38 L339.20,282.93 L339.80,284.23 L340.40,284.80 L340.82,285.03 L341.25,285.27 L341.68,285.54 L342.10,285.54 L342.56,286.11 L343.02,285.62 L343.48,285.31 L343.94,285.65 L344.40,285.15 L344.84,285.12 L345.28,285.49 L345.72,285.15 L346.16,285.13 L346.60,284.87 L347.05,284.72 L347.50,284.81 L347.95,284.96 L348.40,284.65 L348.82,284.74 L349.25,284.64 L349.68,284.89 L350.10,285.30 L350.54,285.38 L350.98,285.01 L351.42,285.02 L351.86,285.04 L352.30,284.64 L352.75,284.66 L353.20,284.37 L353.65,284.12 L354.10,284.34 L354.53,283.64 L354.95,284.70 L355.38,284.47 L355.80,284.97 L356.24,284.60 L356.68,285.54 L357.12,284.98 L357.56,284.60 L358.00,284.41 L358.43,283.72 L358.85,284.24 L359.27,283.79 L359.70,283.83 L360.15,283.95 L360.60,284.28 L361.05,284.67 L361.50,284.65 L361.94,285.06 L362.38,284.32 L362.82,284.94 L363.26,284.48 L363.70,283.82 L364.12,284.15 L364.55,283.64 L364.97,282.73 L365.40,282.79 L365.80,283.92 L366.20,284.32 L366.60,285.05 L367.13,285.47 L367.67,286.22 L368.20,286.22 L368.61,286.28 L369.02,286.59 L369.43,286.60 L369.84,286.74 L370.25,286.53 L370.65,286.87 L371.06,286.73 L371.47,286.93 L371.88,287.00 L372.29,286.87 L372.70,287.00 L373.11,287.02 L373.52,287.03 L373.94,287.05 L374.35,287.07 L374.76,287.08 L375.18,287.10 L375.59,287.12 L376.00,287.13 L376.41,287.15 L376.82,287.17 L377.24,287.18 L377.65,287.20 L378.06,287.22 L378.48,287.23 L378.89,287.25 L379.30,287.27 L379.71,287.28 L380.12,287.30 L380.54,287.32 L380.95,287.33 L381.36,287.35 L381.78,287.37 L382.19,287.38 L382.60,287.40 L383.01,287.41 L383.42,287.42 L383.83,287.43 L384.24,287.44 L384.66,287.46 L385.07,287.47 L385.48,287.48 L385.89,287.49 L386.30,287.50 L386.71,287.51 L387.12,287.52 L387.53,287.53 L387.94,287.54 L388.36,287.56 L388.77,287.57 L389.18,287.58 L389.59,287.59 L390.00,287.60 L390.41,287.61 L390.82,287.62 L391.23,287.63 L391.64,287.64 L392.06,287.66 L392.47,287.67 L392.88,287.68 L393.29,287.69 L393.70,287.70 L394.10,287.71 L394.51,287.71 L394.91,287.72 L395.32,287.73 L395.72,287.74 L396.13,287.74 L396.53,287.75 L396.94,287.76 L397.34,287.77 L397.75,287.77 L398.15,287.78 L398.56,287.79 L398.96,287.80 L399.37,287.80 L399.77,287.81 L400.18,287.82 L400.58,287.82 L400.99,287.83 L401.39,287.84 L401.80,287.85 L402.20,287.85 L402.61,287.86 L403.01,287.87 L403.42,287.88 L403.82,287.88 L404.23,287.89 L404.63,287.90 L405.04,287.90 L405.44,287.91 L405.85,287.92 L406.25,287.93 L406.66,287.93 L407.06,287.94 L407.47,287.95 L407.87,287.96 L408.28,287.96 L408.68,287.97 L409.09,287.98 L409.49,287.99 L409.90,287.99 L410.30,288.00 L410.85,288.00 L411.40,288.00 L411.40,288.5 Z" fill="#0aa6f2" stroke="#1a1a1a" stroke-width="0.9" stroke-linejoin="round"/>
<line x1="326.9" y1="227.2" x2="326.9" y2="289.0" stroke="#000" stroke-width="1.3"/>
<line x1="326.29999999999995" y1="288.5" x2="410.90" y2="288.5" stroke="#000" stroke-width="1.3"/>
<line x1="323.70" y1="288.50" x2="326.9" y2="288.50" stroke="#333" stroke-width="0.8"/>
<line x1="323.70" y1="285.95" x2="326.9" y2="285.95" stroke="#333" stroke-width="0.8"/>
<line x1="323.70" y1="283.39" x2="326.9" y2="283.39" stroke="#333" stroke-width="0.8"/>
<line x1="323.70" y1="278.28" x2="326.9" y2="278.28" stroke="#333" stroke-width="0.8"/>
<line x1="323.70" y1="275.73" x2="326.9" y2="275.73" stroke="#333" stroke-width="0.8"/>
<line x1="323.70" y1="273.18" x2="326.9" y2="273.18" stroke="#333" stroke-width="0.8"/>
<line x1="323.70" y1="268.07" x2="326.9" y2="268.07" stroke="#333" stroke-width="0.8"/>
<line x1="323.70" y1="265.51" x2="326.9" y2="265.51" stroke="#333" stroke-width="0.8"/>
<line x1="323.70" y1="262.96" x2="326.9" y2="262.96" stroke="#333" stroke-width="0.8"/>
<line x1="323.70" y1="257.85" x2="326.9" y2="257.85" stroke="#333" stroke-width="0.8"/>
<line x1="323.70" y1="255.30" x2="326.9" y2="255.30" stroke="#333" stroke-width="0.8"/>
<line x1="323.70" y1="252.74" x2="326.9" y2="252.74" stroke="#333" stroke-width="0.8"/>
<line x1="323.70" y1="247.63" x2="326.9" y2="247.63" stroke="#333" stroke-width="0.8"/>
<line x1="323.70" y1="245.08" x2="326.9" y2="245.08" stroke="#333" stroke-width="0.8"/>
<line x1="323.70" y1="242.53" x2="326.9" y2="242.53" stroke="#333" stroke-width="0.8"/>
<line x1="323.70" y1="237.42" x2="326.9" y2="237.42" stroke="#333" stroke-width="0.8"/>
<line x1="323.70" y1="234.86" x2="326.9" y2="234.86" stroke="#333" stroke-width="0.8"/>
<line x1="323.70" y1="232.31" x2="326.9" y2="232.31" stroke="#333" stroke-width="0.8"/>
<line x1="323.70" y1="227.20" x2="326.9" y2="227.20" stroke="#333" stroke-width="0.8"/>
<line x1="326.90" y1="288.5" x2="326.90" y2="290.7" stroke="#444" stroke-width="0.55"/>
<line x1="333.22" y1="288.5" x2="333.22" y2="289.9" stroke="#444" stroke-width="0.55"/>
<line x1="336.92" y1="288.5" x2="336.92" y2="289.9" stroke="#444" stroke-width="0.55"/>
<line x1="339.54" y1="288.5" x2="339.54" y2="289.9" stroke="#444" stroke-width="0.55"/>
<line x1="341.58" y1="288.5" x2="341.58" y2="289.9" stroke="#444" stroke-width="0.55"/>
<line x1="343.24" y1="288.5" x2="343.24" y2="289.9" stroke="#444" stroke-width="0.55"/>
<line x1="344.65" y1="288.5" x2="344.65" y2="289.9" stroke="#444" stroke-width="0.55"/>
<line x1="345.86" y1="288.5" x2="345.86" y2="289.9" stroke="#444" stroke-width="0.55"/>
<line x1="346.94" y1="288.5" x2="346.94" y2="289.9" stroke="#444" stroke-width="0.55"/>
<line x1="347.90" y1="288.5" x2="347.90" y2="290.7" stroke="#444" stroke-width="0.55"/>
<line x1="354.22" y1="288.5" x2="354.22" y2="289.9" stroke="#444" stroke-width="0.55"/>
<line x1="357.92" y1="288.5" x2="357.92" y2="289.9" stroke="#444" stroke-width="0.55"/>
<line x1="360.54" y1="288.5" x2="360.54" y2="289.9" stroke="#444" stroke-width="0.55"/>
<line x1="362.58" y1="288.5" x2="362.58" y2="289.9" stroke="#444" stroke-width="0.55"/>
<line x1="364.24" y1="288.5" x2="364.24" y2="289.9" stroke="#444" stroke-width="0.55"/>
<line x1="365.65" y1="288.5" x2="365.65" y2="289.9" stroke="#444" stroke-width="0.55"/>
<line x1="366.86" y1="288.5" x2="366.86" y2="289.9" stroke="#444" stroke-width="0.55"/>
<line x1="367.94" y1="288.5" x2="367.94" y2="289.9" stroke="#444" stroke-width="0.55"/>
<line x1="368.90" y1="288.5" x2="368.90" y2="290.7" stroke="#444" stroke-width="0.55"/>
<line x1="375.22" y1="288.5" x2="375.22" y2="289.9" stroke="#444" stroke-width="0.55"/>
<line x1="378.92" y1="288.5" x2="378.92" y2="289.9" stroke="#444" stroke-width="0.55"/>
<line x1="381.54" y1="288.5" x2="381.54" y2="289.9" stroke="#444" stroke-width="0.55"/>
<line x1="383.58" y1="288.5" x2="383.58" y2="289.9" stroke="#444" stroke-width="0.55"/>
<line x1="385.24" y1="288.5" x2="385.24" y2="289.9" stroke="#444" stroke-width="0.55"/>
<line x1="386.65" y1="288.5" x2="386.65" y2="289.9" stroke="#444" stroke-width="0.55"/>
<line x1="387.86" y1="288.5" x2="387.86" y2="289.9" stroke="#444" stroke-width="0.55"/>
<line x1="388.94" y1="288.5" x2="388.94" y2="289.9" stroke="#444" stroke-width="0.55"/>
<line x1="389.90" y1="288.5" x2="389.90" y2="290.7" stroke="#444" stroke-width="0.55"/>
<line x1="396.22" y1="288.5" x2="396.22" y2="289.9" stroke="#444" stroke-width="0.55"/>
<line x1="399.92" y1="288.5" x2="399.92" y2="289.9" stroke="#444" stroke-width="0.55"/>
<line x1="402.54" y1="288.5" x2="402.54" y2="289.9" stroke="#444" stroke-width="0.55"/>
<line x1="404.58" y1="288.5" x2="404.58" y2="289.9" stroke="#444" stroke-width="0.55"/>
<line x1="406.24" y1="288.5" x2="406.24" y2="289.9" stroke="#444" stroke-width="0.55"/>
<line x1="407.65" y1="288.5" x2="407.65" y2="289.9" stroke="#444" stroke-width="0.55"/>
<line x1="408.86" y1="288.5" x2="408.86" y2="289.9" stroke="#444" stroke-width="0.55"/>
<line x1="409.94" y1="288.5" x2="409.94" y2="289.9" stroke="#444" stroke-width="0.55"/>
<text x="322.30" y="297.9" font-family="Liberation Sans, sans-serif" font-size="6.0" fill="#333">10<tspan dy="-3.0" font-size="5.2">0</tspan></text>
<text x="343.30" y="297.9" font-family="Liberation Sans, sans-serif" font-size="6.0" fill="#333">10<tspan dy="-3.0" font-size="5.2">1</tspan></text>
<text x="364.30" y="297.9" font-family="Liberation Sans, sans-serif" font-size="6.0" fill="#333">10<tspan dy="-3.0" font-size="5.2">2</tspan></text>
<text x="385.30" y="297.9" font-family="Liberation Sans, sans-serif" font-size="6.0" fill="#333">10<tspan dy="-3.0" font-size="5.2">3</tspan></text>
<text x="406.30" y="297.9" font-family="Liberation Sans, sans-serif" font-size="6.0" fill="#333">10<tspan dy="-3.0" font-size="5.2">4</tspan></text>
<text transform="translate(322.10,286.60) rotate(-90)" font-family="Liberation Sans, sans-serif" font-size="6" fill="#333" text-anchor="middle">0</text>
<text transform="translate(321.90,226.20) rotate(-90)" font-family="Liberation Sans, sans-serif" font-size="6.2" fill="#333" text-anchor="middle" textLength="8.4" lengthAdjust="spacingAndGlyphs">120</text>
<text transform="translate(319.8,252.9) rotate(-90)" font-size="11.5" font-weight="bold" text-anchor="middle">Counts</text>
<text x="364.2" y="304.2" font-size="11.4" font-weight="bold" text-anchor="middle">Fluorescence</text>
<path d="M431.20,288.5 L431.20,242.40 L431.80,242.40 L432.20,257.01 L432.63,259.15 L433.07,260.32 L433.50,258.47 L433.93,259.30 L434.37,258.43 L434.80,256.33 L435.35,257.81 L435.90,261.02 L436.40,258.20 L436.90,262.30 L437.35,261.97 L437.80,264.54 L438.35,265.46 L438.90,269.20 L439.37,266.63 L439.83,268.79 L440.30,273.19 L440.77,275.02 L441.23,276.64 L441.70,275.65 L442.13,278.45 L442.57,279.48 L443.00,280.99 L443.47,281.77 L443.93,283.11 L444.40,283.49 L444.82,284.39 L445.24,284.24 L445.66,284.48 L446.08,284.81 L446.50,285.36 L446.90,285.70 L447.30,285.62 L447.70,285.94 L448.10,285.71 L448.50,286.06 L448.91,286.32 L449.32,286.48 L449.73,286.61 L450.14,286.74 L450.55,286.75 L450.96,286.76 L451.37,286.83 L451.78,287.00 L452.19,287.10 L452.60,287.20 L453.02,287.20 L453.43,287.21 L453.85,287.21 L454.27,287.22 L454.69,287.22 L455.10,287.23 L455.52,287.23 L455.94,287.23 L456.36,287.24 L456.77,287.24 L457.19,287.25 L457.61,287.25 L458.03,287.26 L458.44,287.26 L458.86,287.27 L459.28,287.27 L459.70,287.27 L460.11,287.28 L460.53,287.28 L460.95,287.29 L461.37,287.29 L461.78,287.30 L462.20,287.30 L462.60,287.28 L463.00,287.25 L463.40,287.23 L463.80,287.21 L464.20,287.18 L464.60,287.16 L465.00,287.14 L465.40,287.11 L465.80,287.09 L466.20,287.06 L466.60,287.04 L467.00,287.02 L467.40,286.93 L467.80,286.71 L468.20,287.03 L468.60,286.92 L469.00,286.54 L469.44,287.19 L469.88,287.02 L470.31,287.09 L470.75,287.15 L471.19,287.21 L471.62,287.27 L472.06,287.34 L472.50,287.40 L472.91,287.40 L473.31,287.41 L473.72,287.41 L474.13,287.42 L474.53,287.42 L474.94,287.43 L475.35,287.43 L475.76,287.44 L476.16,287.44 L476.57,287.45 L476.98,287.45 L477.38,287.46 L477.79,287.46 L478.20,287.47 L478.60,287.47 L479.01,287.47 L479.42,287.48 L479.83,287.48 L480.23,287.49 L480.64,287.49 L481.05,287.50 L481.45,287.50 L481.86,287.51 L482.27,287.51 L482.67,287.52 L483.08,287.52 L483.49,287.53 L483.90,287.53 L484.30,287.53 L484.71,287.54 L485.12,287.54 L485.52,287.55 L485.93,287.55 L486.34,287.56 L486.74,287.56 L487.15,287.57 L487.56,287.57 L487.97,287.58 L488.37,287.58 L488.78,287.59 L489.19,287.59 L489.59,287.60 L490.00,287.60 L490.40,287.60 L490.81,287.61 L491.21,287.61 L491.61,287.61 L492.02,287.62 L492.42,287.62 L492.82,287.62 L493.23,287.63 L493.63,287.63 L494.03,287.63 L494.44,287.64 L494.84,287.64 L495.24,287.64 L495.65,287.65 L496.05,287.65 L496.45,287.65 L496.86,287.66 L497.26,287.66 L497.66,287.66 L498.07,287.67 L498.47,287.67 L498.87,287.67 L499.28,287.68 L499.68,287.68 L500.08,287.68 L500.49,287.69 L500.89,287.69 L501.29,287.69 L501.70,287.70 L502.10,287.70 L502.51,287.71 L502.91,287.71 L503.31,287.71 L503.72,287.72 L504.12,287.72 L504.52,287.72 L504.93,287.73 L505.33,287.73 L505.73,287.73 L506.14,287.74 L506.54,287.74 L506.94,287.74 L507.35,287.75 L507.75,287.75 L508.15,287.75 L508.56,287.76 L508.96,287.76 L509.36,287.76 L509.77,287.77 L510.17,287.77 L510.57,287.77 L510.98,287.78 L511.38,287.78 L511.78,287.78 L512.19,287.79 L512.59,287.79 L512.99,287.79 L513.40,287.80 L513.80,287.80 L513.80,288.5 Z" fill="#d9d9d9" stroke="#2a2a2a" stroke-width="0.7" stroke-linejoin="round"/>
<line x1="430.8" y1="225.7" x2="430.8" y2="289.0" stroke="#000" stroke-width="1.3"/>
<line x1="430.2" y1="288.5" x2="513.80" y2="288.5" stroke="#000" stroke-width="1.3"/>
<line x1="427.60" y1="288.50" x2="430.8" y2="288.50" stroke="#333" stroke-width="0.8"/>
<line x1="427.60" y1="285.88" x2="430.8" y2="285.88" stroke="#333" stroke-width="0.8"/>
<line x1="427.60" y1="283.27" x2="430.8" y2="283.27" stroke="#333" stroke-width="0.8"/>
<line x1="427.60" y1="278.03" x2="430.8" y2="278.03" stroke="#333" stroke-width="0.8"/>
<line x1="427.60" y1="275.42" x2="430.8" y2="275.42" stroke="#333" stroke-width="0.8"/>
<line x1="427.60" y1="272.80" x2="430.8" y2="272.80" stroke="#333" stroke-width="0.8"/>
<line x1="427.60" y1="267.57" x2="430.8" y2="267.57" stroke="#333" stroke-width="0.8"/>
<line x1="427.60" y1="264.95" x2="430.8" y2="264.95" stroke="#333" stroke-width="0.8"/>
<line x1="427.60" y1="262.33" x2="430.8" y2="262.33" stroke="#333" stroke-width="0.8"/>
<line x1="427.60" y1="257.10" x2="430.8" y2="257.10" stroke="#333" stroke-width="0.8"/>
<line x1="427.60" y1="254.48" x2="430.8" y2="254.48" stroke="#333" stroke-width="0.8"/>
<line x1="427.60" y1="251.87" x2="430.8" y2="251.87" stroke="#333" stroke-width="0.8"/>
<line x1="427.60" y1="246.63" x2="430.8" y2="246.63" stroke="#333" stroke-width="0.8"/>
<line x1="427.60" y1="244.02" x2="430.8" y2="244.02" stroke="#333" stroke-width="0.8"/>
<line x1="427.60" y1="241.40" x2="430.8" y2="241.40" stroke="#333" stroke-width="0.8"/>
<line x1="427.60" y1="236.17" x2="430.8" y2="236.17" stroke="#333" stroke-width="0.8"/>
<line x1="427.60" y1="233.55" x2="430.8" y2="233.55" stroke="#333" stroke-width="0.8"/>
<line x1="427.60" y1="230.93" x2="430.8" y2="230.93" stroke="#333" stroke-width="0.8"/>
<line x1="427.60" y1="225.70" x2="430.8" y2="225.70" stroke="#333" stroke-width="0.8"/>
<line x1="430.80" y1="288.5" x2="430.80" y2="290.7" stroke="#444" stroke-width="0.55"/>
<line x1="437.05" y1="288.5" x2="437.05" y2="289.9" stroke="#444" stroke-width="0.55"/>
<line x1="440.70" y1="288.5" x2="440.70" y2="289.9" stroke="#444" stroke-width="0.55"/>
<line x1="443.29" y1="288.5" x2="443.29" y2="289.9" stroke="#444" stroke-width="0.55"/>
<line x1="445.30" y1="288.5" x2="445.30" y2="289.9" stroke="#444" stroke-width="0.55"/>
<line x1="446.95" y1="288.5" x2="446.95" y2="289.9" stroke="#444" stroke-width="0.55"/>
<line x1="448.34" y1="288.5" x2="448.34" y2="289.9" stroke="#444" stroke-width="0.55"/>
<line x1="449.54" y1="288.5" x2="449.54" y2="289.9" stroke="#444" stroke-width="0.55"/>
<line x1="450.60" y1="288.5" x2="450.60" y2="289.9" stroke="#444" stroke-width="0.55"/>
<line x1="451.55" y1="288.5" x2="451.55" y2="290.7" stroke="#444" stroke-width="0.55"/>
<line x1="457.80" y1="288.5" x2="457.80" y2="289.9" stroke="#444" stroke-width="0.55"/>
<line x1="461.45" y1="288.5" x2="461.45" y2="289.9" stroke="#444" stroke-width="0.55"/>
<line x1="464.04" y1="288.5" x2="464.04" y2="289.9" stroke="#444" stroke-width="0.55"/>
<line x1="466.05" y1="288.5" x2="466.05" y2="289.9" stroke="#444" stroke-width="0.55"/>
<line x1="467.70" y1="288.5" x2="467.70" y2="289.9" stroke="#444" stroke-width="0.55"/>
<line x1="469.09" y1="288.5" x2="469.09" y2="289.9" stroke="#444" stroke-width="0.55"/>
<line x1="470.29" y1="288.5" x2="470.29" y2="289.9" stroke="#444" stroke-width="0.55"/>
<line x1="471.35" y1="288.5" x2="471.35" y2="289.9" stroke="#444" stroke-width="0.55"/>
<line x1="472.30" y1="288.5" x2="472.30" y2="290.7" stroke="#444" stroke-width="0.55"/>
<line x1="478.55" y1="288.5" x2="478.55" y2="289.9" stroke="#444" stroke-width="0.55"/>
<line x1="482.20" y1="288.5" x2="482.20" y2="289.9" stroke="#444" stroke-width="0.55"/>
<line x1="484.79" y1="288.5" x2="484.79" y2="289.9" stroke="#444" stroke-width="0.55"/>
<line x1="486.80" y1="288.5" x2="486.80" y2="289.9" stroke="#444" stroke-width="0.55"/>
<line x1="488.45" y1="288.5" x2="488.45" y2="289.9" stroke="#444" stroke-width="0.55"/>
<line x1="489.84" y1="288.5" x2="489.84" y2="289.9" stroke="#444" stroke-width="0.55"/>
<line x1="491.04" y1="288.5" x2="491.04" y2="289.9" stroke="#444" stroke-width="0.55"/>
<line x1="492.10" y1="288.5" x2="492.10" y2="289.9" stroke="#444" stroke-width="0.55"/>
<line x1="493.05" y1="288.5" x2="493.05" y2="290.7" stroke="#444" stroke-width="0.55"/>
<line x1="499.30" y1="288.5" x2="499.30" y2="289.9" stroke="#444" stroke-width="0.55"/>
<line x1="502.95" y1="288.5" x2="502.95" y2="289.9" stroke="#444" stroke-width="0.55"/>
<line x1="505.54" y1="288.5" x2="505.54" y2="289.9" stroke="#444" stroke-width="0.55"/>
<line x1="507.55" y1="288.5" x2="507.55" y2="289.9" stroke="#444" stroke-width="0.55"/>
<line x1="509.20" y1="288.5" x2="509.20" y2="289.9" stroke="#444" stroke-width="0.55"/>
<line x1="510.59" y1="288.5" x2="510.59" y2="289.9" stroke="#444" stroke-width="0.55"/>
<line x1="511.79" y1="288.5" x2="511.79" y2="289.9" stroke="#444" stroke-width="0.55"/>
<line x1="512.85" y1="288.5" x2="512.85" y2="289.9" stroke="#444" stroke-width="0.55"/>
<text x="426.20" y="298.2" font-family="Liberation Sans, sans-serif" font-size="6.0" fill="#333">10<tspan dy="-3.0" font-size="5.2">0</tspan></text>
<text x="446.95" y="298.2" font-family="Liberation Sans, sans-serif" font-size="6.0" fill="#333">10<tspan dy="-3.0" font-size="5.2">1</tspan></text>
<text x="467.70" y="298.2" font-family="Liberation Sans, sans-serif" font-size="6.0" fill="#333">10<tspan dy="-3.0" font-size="5.2">2</tspan></text>
<text x="488.45" y="298.2" font-family="Liberation Sans, sans-serif" font-size="6.0" fill="#333">10<tspan dy="-3.0" font-size="5.2">3</tspan></text>
<text x="509.20" y="298.2" font-family="Liberation Sans, sans-serif" font-size="6.0" fill="#333">10<tspan dy="-3.0" font-size="5.2">4</tspan></text>
<text transform="translate(426.00,286.60) rotate(-90)" font-family="Liberation Sans, sans-serif" font-size="6" fill="#333" text-anchor="middle">0</text>
<text transform="translate(425.80,224.70) rotate(-90)" font-family="Liberation Sans, sans-serif" font-size="6.2" fill="#333" text-anchor="middle" textLength="8.4" lengthAdjust="spacingAndGlyphs">120</text>
<text transform="translate(423.8,253.3) rotate(-90)" font-size="11.5" font-weight="bold" text-anchor="middle">Counts</text>
<text x="469.8" y="304.6" font-size="11.4" font-weight="bold" text-anchor="middle">Fluorescence</text>
</svg>
</body></html>
